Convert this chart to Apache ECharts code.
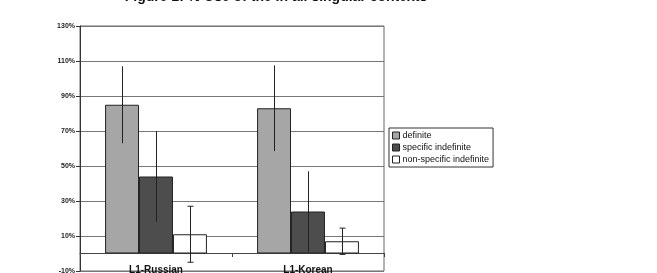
<!DOCTYPE html>
<html>
<head>
<meta charset="utf-8">
<script src="https://cdn.jsdelivr.net/npm/echarts@6/dist/echarts.min.js"></script>
<style>
html,body{margin:0;padding:0;background:#fff;}
#chart{width:657px;height:273px;}
</style>
</head>
<body>
<div id="chart"></div>
<script>
var titleText = 'Figure 1: % Use of the in all singular contexts';
var categories = ['L1-Russian', 'L1-Korean'];
var seriesNames = ['definite', 'specific indefinite', 'non-specific indefinite'];
var definite = [85, 83];
var specificIndefinite = [44, 24];
var nonSpecificIndefinite = [11, 7];
var definiteErr = [22, 24.5];
var specificIndefiniteErr = [26, 23];
var nonSpecificIndefiniteErr = [16, 7.5];
var yTicks = { min: -10, max: 130, interval: 20 };

var values = [definite, specificIndefinite, nonSpecificIndefinite];
var errs = [definiteErr, specificIndefiniteErr, nonSpecificIndefiniteErr];
var colors = ['#a6a6a6', '#4d4d4d', '#ffffff'];
var catGap = 0.33;

var chart = echarts.init(document.getElementById('chart'));

function makeErr(idx) {
  var data = categories.map(function (c, i) { return [i, values[idx][i], errs[idx][i]]; });
  return {
    type: 'custom',
    name: seriesNames[idx] + ' err',
    data: data,
    z: 10,
    silent: true,
    renderItem: function (params, api) {
      var ci = api.value(0), v = api.value(1), e = api.value(2);
      var band = api.size([1, 0])[0];
      var bw = band * (1 - catGap) / 3;
      var off = (idx - 1) * bw;
      var top = api.coord([ci, v + e]);
      var bot = api.coord([ci, v - e]);
      var x = Math.round(top[0] + off) + 0.5;
      var st = { stroke: '#222', lineWidth: 1 };
      var children = [{ type: 'line', shape: { x1: x, y1: top[1], x2: x, y2: bot[1] }, style: st }];
      if (idx === 2) {
        children.push({ type: 'line', shape: { x1: x - 3, y1: top[1], x2: x + 3, y2: top[1] }, style: st });
        children.push({ type: 'line', shape: { x1: x - 3, y1: bot[1], x2: x + 3, y2: bot[1] }, style: st });
      }
      return { type: 'group', children: children };
    }
  };
}

var series = [];
for (var k = 0; k < 3; k++) {
  series.push({
    type: 'bar',
    name: seriesNames[k],
    data: values[k],
    barGap: '0%',
    barCategoryGap: '33%',
    itemStyle: { color: colors[k], borderColor: '#222', borderWidth: 1 }
  });
}
for (var k2 = 0; k2 < 3; k2++) series.push(makeErr(k2));

chart.setOption({
  animation: false,
  backgroundColor: '#ffffff',
  title: {
    text: titleText,
    left: 276,
    textAlign: 'center',
    top: -10,
    padding: 0,
    textStyle: { fontFamily: 'Liberation Sans, Arial, sans-serif', fontSize: 14, fontWeight: 'bold', color: '#111' }
  },
  legend: {
    data: seriesNames.map(function (n, i) {
      return { name: n, itemStyle: { color: colors[i], borderColor: '#222', borderWidth: 1 } };
    }),
    orient: 'vertical',
    left: 389,
    top: 128,
    itemWidth: 7,
    itemHeight: 7,
    itemGap: 3,
    icon: 'rect',
    padding: [3, 4, 3, 3],
    borderColor: '#333',
    borderWidth: 1,
    backgroundColor: '#fff',
    textStyle: { fontFamily: 'Liberation Sans, Arial, sans-serif', fontSize: 9, color: '#111', padding: [0, 0, 0, -2] }
  },
  grid: {
    left: 80, top: 26, width: 304, height: 245,
    containLabel: false,
    outerBoundsMode: 'none',
    show: true, borderColor: '#666', borderWidth: 1
  },
  xAxis: {
    type: 'category',
    data: categories,
    position: 'bottom',
    offset: -18,
    axisLine: { onZero: false, lineStyle: { color: '#444', width: 1 } },
    axisTick: { show: true, inside: false, length: 4, lineStyle: { color: '#444' } },
    axisLabel: { show: true, margin: 12, fontFamily: 'Liberation Sans, Arial, sans-serif', fontSize: 10, fontWeight: 'bold', color: '#111' }
  },
  yAxis: {
    type: 'value',
    min: yTicks.min, max: yTicks.max, interval: yTicks.interval,
    axisLine: { show: true, lineStyle: { color: '#333' } },
    axisTick: { show: true, length: 4, lineStyle: { color: '#333' } },
    splitLine: { show: true, lineStyle: { color: '#777', width: 1 } },
    axisLabel: { margin: 5, fontFamily: 'Liberation Sans, Arial, sans-serif', fontSize: 7, fontWeight: 'bold', color: '#222', formatter: '{value}%' }
  },
  series: series
});
</script>
</body>
</html>
